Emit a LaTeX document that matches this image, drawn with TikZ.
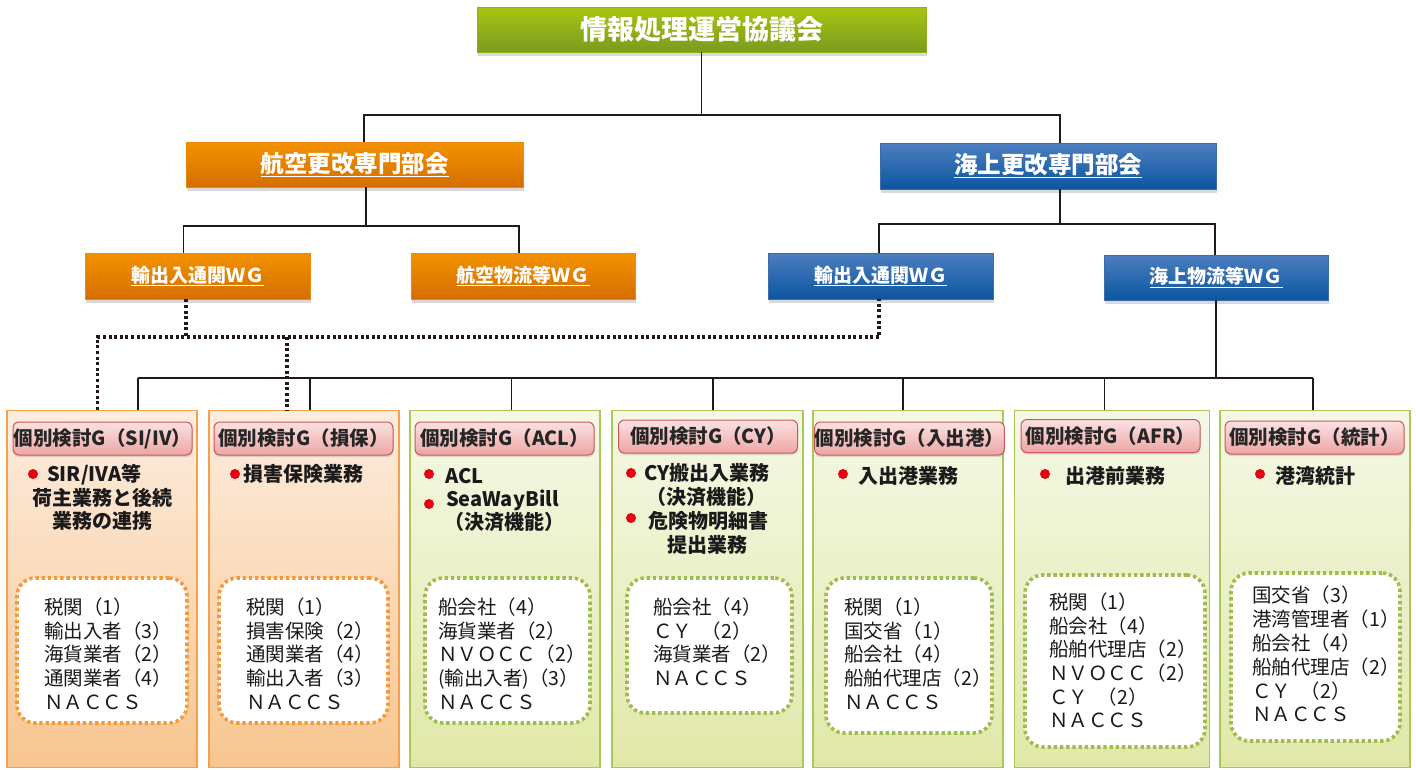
\documentclass[tikz,border=0pt]{standalone}
\usepackage{fontspec}
\setmainfont{Noto Sans CJK JP}
\usetikzlibrary{shadows}
\definecolor{lineclr}{HTML}{231815}
\definecolor{gtop}{HTML}{A8C511}
\definecolor{gbot}{HTML}{7B9B1F}
\definecolor{gbrd}{HTML}{8FAE1B}
\definecolor{otop}{HTML}{F39200}
\definecolor{obot}{HTML}{D46E00}
\definecolor{obrd}{HTML}{E88A10}
\definecolor{btop}{HTML}{4C7EC0}
\definecolor{bbot}{HTML}{0C56A0}
\definecolor{bbrd}{HTML}{3C6CAA}
\definecolor{octop}{HTML}{FDEDE0}
\definecolor{ocbot}{HTML}{F8C58F}
\definecolor{ocbrd}{HTML}{F5A04A}
\definecolor{gctop}{HTML}{F5F8E6}
\definecolor{gcbot}{HTML}{E0E8A8}
\definecolor{gcbrd}{HTML}{A8C858}
\definecolor{htop}{HTML}{FBE2E2}
\definecolor{hbot}{HTML}{EDA5A5}
\definecolor{hbrd}{HTML}{C8585A}
\definecolor{hdtext}{HTML}{262626}
\definecolor{odot}{HTML}{F59A3A}
\definecolor{gdot}{HTML}{9DBE4E}
\definecolor{bulred}{HTML}{E60012}
\definecolor{bodytext}{HTML}{1A1A1A}
\tikzset{
 conn/.style={draw=lineclr, line width=1.6pt},
 dotconn/.style={draw=lineclr, line width=3.2pt, dash pattern=on 3pt off 2.6pt},
 boxbase/.style={inner sep=0pt, text=white, line width=0.8pt, drop shadow={shadow xshift=1pt, shadow yshift=-4pt, opacity=.3}},
 greenbox/.style={boxbase, draw=gbrd, top color=gtop, bottom color=gbot, font=\fontsize{27}{32}\selectfont\bfseries},
 orangebox/.style={boxbase, draw=obrd, top color=otop, bottom color=obot},
 bluebox/.style={boxbase, draw=bbrd, top color=btop, bottom color=bbot},
 deptfont/.style={font=\fontsize{23.5}{28}\selectfont\bfseries},
 wgfont/.style={font=\fontsize{19}{22}\selectfont\bfseries},
 orcol/.style={draw=ocbrd, top color=octop, bottom color=ocbot, inner sep=0pt, line width=1.2pt, anchor=north, minimum height=357pt},
 grcol/.style={draw=gcbrd, top color=gctop, bottom color=gcbot, inner sep=0pt, line width=1.2pt, anchor=north, minimum height=357pt},
 hdr/.style={draw=hbrd, line width=1pt, rounded corners=6pt, top color=htop, bottom color=hbot, minimum width=179pt, minimum height=33pt, inner sep=0pt, font=\fontsize{19.5}{22}\selectfont\bfseries, text=hdtext, drop shadow={shadow xshift=.5pt, shadow yshift=-2pt, opacity=.25}},
 memo/.style={fill=white, line width=3.6pt, dash pattern=on 3.4pt off 2.8pt, rounded corners=18pt, inner sep=0pt},
 omemo/.style={memo, draw=odot},
 gmemo/.style={memo, draw=gdot},
 bul/.style={circle, fill=bulred, inner sep=0pt, minimum size=10pt},
 btxt/.style={inner sep=0pt, text height=17.6pt, text depth=2.4pt, text=bodytext, font=\fontsize{20}{24}\selectfont\bfseries},
 ltxt/.style={inner sep=0pt, text height=17.2pt, text depth=2.3pt, text=bodytext, anchor=west, font=\fontsize{19.5}{24}\selectfont},
}
\begin{document}
\begin{tikzpicture}[x=1pt,y=-1pt]
\useasboundingbox (0,0) rectangle (1416,769);

% columns
\node[orcol, minimum width=190pt] (g1) at (102,410) {};
\node[orcol, minimum width=190pt] (g2) at (304,410) {};
\node[grcol, minimum width=190pt] (g3) at (505,410) {};
\node[grcol, minimum width=191pt] (g4) at (707.5,410) {};
\node[grcol, minimum width=190pt] (g5) at (908,410) {};
\node[grcol, minimum width=195pt] (g6) at (1112,410) {};
\node[grcol, minimum width=190pt] (g7) at (1315,410) {};

% headers
\node[hdr] (h1) at (102.5,438.5) {個別検討G（SI/IV）};
\node[hdr] (h2) at (303.5,438.5) {個別検討G（損保）};
\node[hdr] (h3) at (504.5,438.5) {個別検討G（ACL）};
\node[hdr] (h4) at (708,436.5) {個別検討G（CY）};
\node[hdr] (h5) at (909.5,438.5) {個別検討G（入出港）};
\node[hdr] (h6) at (1110.5,436) {個別検討G（AFR）};
\node[hdr] (h7) at (1314.5,437.5) {個別検討G（統計）};

% bullets and task text
\node[bul] (u1) at (33,474) {};
\node[btxt, anchor=west] (t1a) at (47,474) {SIR/IVA等};
\node[btxt] (t1b) at (102.5,498) {荷主業務と後続};
\node[btxt] (t1c) at (102.5,521) {業務の連携};

\node[bul] (u2) at (235,474) {};
\node[btxt, anchor=west] (t2a) at (243,474) {損害保険業務};

\node[bul] (u3a) at (429,474) {};
\node[btxt, anchor=west] (t3a) at (445,476) {ACL};
\node[bul] (u3b) at (429,504) {};
\node[btxt, anchor=west] (t3b) at (446,499) {SeaWayBill};
\node[btxt] (t3c) at (504,522) {（決済機能）};

\node[bul] (u4a) at (631,473) {};
\node[btxt, anchor=west] (t4a) at (644,473) {CY搬出入業務};
\node[btxt] (t4b) at (706,497) {（決済機能）};
\node[bul] (u4b) at (631,518) {};
\node[btxt, anchor=west] (t4c) at (648,521) {危険物明細書};
\node[btxt] (t4d) at (707.5,545) {提出業務};

\node[bul] (u5) at (843,474) {};
\node[btxt, anchor=west] (t5) at (858,476) {入出港業務};
\node[bul] (u6) at (1045,474) {};
\node[btxt, anchor=west] (t6) at (1065,476) {出港前業務};
\node[bul] (u7) at (1260,474) {};
\node[btxt, anchor=west] (t7) at (1275,476) {港湾統計};

% member boxes
\node[omemo, minimum width=170pt, minimum height=145pt] (m1) at (102,650.5) {};
\node[omemo, minimum width=169pt, minimum height=145pt] (m2) at (303.5,650.5) {};
\node[gmemo, minimum width=165pt, minimum height=145pt] (m3) at (507.5,650.5) {};
\node[gmemo, minimum width=165pt, minimum height=135pt] (m4) at (709.5,645.5) {};
\node[gmemo, minimum width=166pt, minimum height=155pt] (m5) at (909,655.5) {};
\node[gmemo, minimum width=180pt, minimum height=172pt] (m6) at (1115,661) {};
\node[gmemo, minimum width=169pt, minimum height=168pt] (m7) at (1315.5,657) {};

\foreach \t [count=\i from 0] in {税関（1）,輸出入者（3）,海貨業者（2）,通関業者（4）,ＮＡＣＣＳ}
  \node[ltxt] (la-\i) at (44,{607+23.7*\i}) {\t};
\foreach \t [count=\i from 0] in {税関（1）,損害保険（2）,通関業者（4）,輸出入者（3）,ＮＡＣＣＳ}
  \node[ltxt] (lb-\i) at (246,{607+23.7*\i}) {\t};
\foreach \t [count=\i from 0] in {船会社（4）,海貨業者（2）,ＮＶＯＣＣ（2）,{(輸出入者)（3）},ＮＡＣＣＳ}
  \node[ltxt] (lc-\i) at (438,{607+23.7*\i}) {\t};
\foreach \t [count=\i from 0] in {船会社（4）,ＣＹ\hspace{.5em}（2）,海貨業者（2）,ＮＡＣＣＳ}
  \node[ltxt] (ld-\i) at (653,{607+23.7*\i}) {\t};
\foreach \t [count=\i from 0] in {税関（1）,国交省（1）,船会社（4）,船舶代理店（2）,ＮＡＣＣＳ}
  \node[ltxt] (le-\i) at (844,{607+23.7*\i}) {\t};
\foreach \t [count=\i from 0] in {税関（1）,船会社（4）,船舶代理店（2）,ＮＶＯＣＣ（2）,ＣＹ\hspace{.5em}（2）,ＮＡＣＣＳ}
  \node[ltxt] (lf-\i) at (1049,{602+23.7*\i}) {\t};
\foreach \t [count=\i from 0] in {国交省（3）,港湾管理者（1）,船会社（4）,船舶代理店（2）,ＣＹ\hspace{.5em}（2）,ＮＡＣＣＳ}
  \node[ltxt] (lg-\i) at (1252,{595+23.9*\i}) {\t};

% upper boxes
\node[greenbox, minimum width=449pt, minimum height=45pt] (top) at (701.5,29.5) {情報処理運営協議会};
\node[orangebox, deptfont, minimum width=337pt, minimum height=45pt] (air) at (354.5,164.5) {\underline{航空更改専門部会}};
\node[bluebox, deptfont, minimum width=336pt, minimum height=46pt] (sea) at (1048,166) {\underline{海上更改専門部会}};
\node[orangebox, wgfont, minimum width=225pt, minimum height=46pt] (wa1) at (197.5,276) {\underline{輸出入通関ＷＧ}};
\node[orangebox, wgfont, minimum width=224pt, minimum height=46pt] (wa2) at (523,276) {\underline{航空物流等ＷＧ}};
\node[bluebox, wgfont, minimum width=225pt, minimum height=46pt] (ws1) at (880.5,276) {\underline{輸出入通関ＷＧ}};
\node[bluebox, wgfont, minimum width=224pt, minimum height=45pt] (ws2) at (1216,277.5) {\underline{海上物流等ＷＧ}};

% connectors
\coordinate (j1) at (701.5,115);
\draw[conn] (top.south) -- (j1);
\draw[conn] ([xshift=9.5pt]air.north) |- (j1) -| ([xshift=12pt]sea.north);
\coordinate (j2) at (366,226);
\draw[conn] ([xshift=11.5pt]air.south) -- (j2);
\draw[conn] ([xshift=-14pt]wa1.north) |- (j2) -| ([xshift=-4pt]wa2.north);
\coordinate (j3) at (1060,224);
\draw[conn] ([xshift=12pt]sea.south) -- (j3);
\draw[conn] ([xshift=-1.5pt]ws1.north) |- (j3) -| ([xshift=-1pt]ws2.north);

% dotted links
\coordinate (d0) at (186,337);
\coordinate (dL) at (97.5,337);
\coordinate (dM) at (287,337);
\coordinate (dR) at (879,337);
\draw[dotconn] ([xshift=-11.5pt]wa1.south) -- (d0);
\draw[dotconn] (dL |- g1.north) -- (dL) -- (dR) -- (dR |- ws1.south);
\draw[dotconn] (dM) -- (dM |- g2.north);

% bus
\coordinate (bus1) at (138,378);
\coordinate (bus2) at (310,378);
\coordinate (bus3) at (511.5,378);
\coordinate (bus4) at (713,378);
\coordinate (bus5) at (903,378);
\coordinate (bus6) at (1104.5,378);
\coordinate (bus7) at (1313,378);
\draw[conn] (bus1) -- (bus7);
\draw[conn] (ws2.south) -- (ws2.south |- bus7);
\foreach \k in {1,...,7}
  \draw[conn] (bus\k) -- (bus\k |- g\k.north);
\end{tikzpicture}
\end{document}
